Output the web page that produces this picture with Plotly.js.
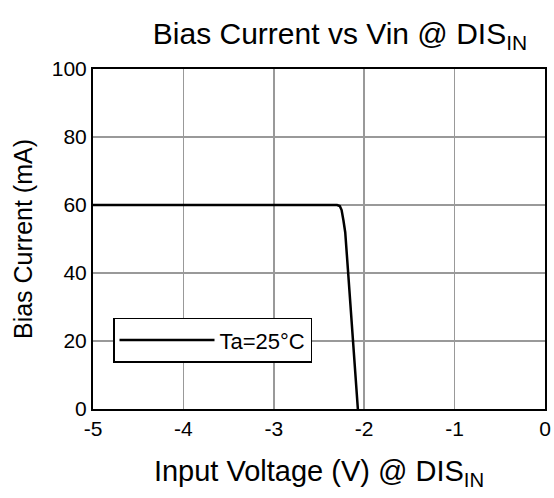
<!DOCTYPE html>
<html>
<head>
<meta charset="utf-8">
<script src="https://cdn.plot.ly/plotly-3.0.1.min.js"></script>
<style>html,body{margin:0;padding:0;background:#fff;}#chart{width:554px;height:498px;}</style>
</head>
<body>
<div id="chart"></div>
<script>
var vin = [-5, -2.30, -2.27, -2.25, -2.23, -2.21, -2.18, -2.14, -2.10, -2.07];
var bias = [60, 60, 59.7, 58.5, 55.5, 52, 41, 26, 11, 0];
var xTickVals = [-5, -4, -3, -2, -1, 0];
var xTickText = ['-5', '-4', '-3', '-2', '-1', '0'];
var yTickVals = [0, 20, 40, 60, 80, 100];

var font = 'Liberation Sans';
var trace = {
  x: vin, y: bias, type: 'scatter', mode: 'lines', name: 'Ta=25°C',
  line: {color: '#000', width: 2.5}
};
var layout = {
  width: 554, height: 498,
  margin: {l: 93, r: 9, t: 69, b: 89},
  paper_bgcolor: '#fff', plot_bgcolor: '#fff',
  font: {family: font, color: '#000', size: 21},
  title: {text: 'Bias Current vs Vin @ DIS<sub>IN</sub>', font: {size: 30, family: font, color: '#000'},
          x: 340 / 554, xanchor: 'center', xref: 'container',
          y: 1 - 33 / 498, yanchor: 'middle', yref: 'container'},
  xaxis: {
    range: [-5, 0], tickvals: xTickVals, ticktext: xTickText,
    showgrid: true, gridcolor: '#999', gridwidth: 1.5,
    showline: true, linecolor: '#000', linewidth: 2, mirror: true,
    zeroline: false, ticks: '', tickfont: {size: 21},
    title: {text: 'Input Voltage (V) @ DIS<sub>IN</sub>', font: {size: 29}, standoff: 21}
  },
  yaxis: {
    range: [0, 100], tickvals: yTickVals,
    showgrid: true, gridcolor: '#999', gridwidth: 1.5,
    showline: true, linecolor: '#000', linewidth: 2, mirror: true,
    zeroline: false, ticks: '', tickfont: {size: 21},
    title: {text: 'Bias Current (mA)', font: {size: 25}, standoff: 12}
  },
  showlegend: true,
  legend: {
    x: (113 - 93) / 452, y: (408 - 317) / 339, xanchor: 'left', yanchor: 'top',
    bgcolor: '#fff', bordercolor: '#000', borderwidth: 1.5,
    font: {size: 22}, itemwidth: 95
  }
};
Plotly.newPlot('chart', [trace], layout, {displayModeBar: false, staticPlot: true});
</script>
</body>
</html>
